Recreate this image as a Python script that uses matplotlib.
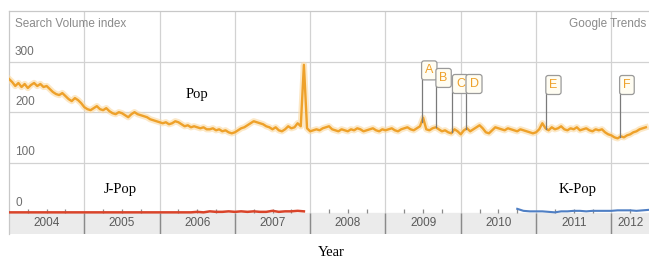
import numpy as np
import matplotlib
matplotlib.use('Agg')
import matplotlib.pyplot as plt

# ============================== DATA ==============================
# Pop: semi-monthly search index, 2004.0 .. 2012.46
pop_vals = [
    266, 260, 252, 258, 250, 256, 248, 254, 258, 252, 256, 250, 252, 246, 240, 236, 234, 238, 232, 226, 222, 228, 224, 218,  # 2004
    210, 206, 204, 208, 212, 206, 204, 208, 202, 198, 196, 200, 198, 194, 190, 196, 200, 196, 194, 192, 190, 186, 184, 182,  # 2005
    180, 178, 180, 176, 178, 182, 180, 176, 172, 174, 170, 172, 170, 168, 170, 166, 166, 168, 164, 166, 162, 164, 160, 158,  # 2006
    160, 164, 168, 170, 174, 178, 182, 180, 178, 176, 172, 170, 166, 170, 164, 162, 166, 172, 168, 170, 178, 172, 294, 168,  # 2007
    162, 164, 166, 164, 168, 170, 172, 166, 164, 162, 166, 164, 162, 166, 164, 168, 166, 162, 164, 166, 168, 164, 162, 166,  # 2008
    164, 166, 168, 164, 162, 166, 168, 170, 166, 164, 168, 172, 189, 166, 164, 168, 170, 166, 162, 164, 160, 158, 166, 162,  # 2009
    156, 164, 168, 162, 166, 170, 174, 168, 160, 158, 164, 170, 168, 166, 164, 168, 166, 164, 162, 166, 164, 162, 160, 158,  # 2010
    160, 166, 178, 168, 164, 170, 166, 168, 172, 166, 164, 168, 166, 170, 164, 166, 168, 164, 162, 166, 164, 166, 160, 156,  # 2011
    154, 150, 148, 152, 150, 154, 156, 160, 162, 166, 168, 170,                                                              # 2012
]
pop_t = 2004 + np.arange(len(pop_vals)) / 24.0

# J-Pop: monthly, 2004.0 .. 2007.92
jpop_vals = [1]*12 + [1]*12 + [1, 1, 1, 1, 1, 1, 2, 1, 3, 2, 2, 3] + [2, 3, 2, 3, 2, 2, 4, 2, 3, 3, 4, 3]
jpop_t = 2004 + np.arange(len(jpop_vals)) / 12.0

# K-Pop: monthly, 2010.75 .. 2012.5
kpop_vals = [8, 4, 3, 3, 3, 2, 1, 3, 3, 4, 4, 3, 4, 4, 4, 4, 5, 5, 5, 4, 5, 6]
kpop_t = 2010.75 + np.arange(len(kpop_vals)) / 12.0

years = [2004, 2005, 2006, 2007, 2008, 2009, 2010, 2011, 2012]
yticks = [0, 100, 200, 300]

# news flags
flag_lbl = ['A', 'B', 'C', 'D', 'E', 'F']
flag_x = [2009.48, 2009.67, 2009.89, 2010.07, 2011.13, 2012.11]
flag_y = [283, 268, 256, 256, 254, 254]

# ============================== PLOT ==============================
orange = '#eea12a'
grey_txt = '#6e6e6e'
sans = 'Liberation Sans'
serif = 'Liberation Serif'

fig = plt.figure(figsize=(6.49, 2.57), dpi=100)
ax = fig.add_axes([9/649, 23/257, 640/649, 223/257])
ax.set_xlim(2004.0, 2012.5)
ax.set_ylim(-42, 401)

# year band + grid
ax.axhspan(-42, 0, color='#ebebeb', zorder=0)
for y in yticks[1:]:
    ax.axhline(y, color='#d2d2d2', lw=0.9, zorder=1)
for yr in years[1:]:
    ax.axvline(yr, color='#d2d2d2', lw=0.9, zorder=1)
ax.vlines(years[1:], -42, 0, color='#8a8a8a', lw=1.0, zorder=2)
quarters = [yr + q/4 for yr in years for q in (1, 2, 3) if yr + q/4 < 2012.5]
ax.vlines(quarters, 0, 7, color='#8a8a8a', lw=0.9, zorder=2)
for yr in years:
    mid = min(yr + 0.5, (yr + 2012.5) / 2)
    ax.text(mid, -21, str(yr), ha='center', va='center', fontsize=8.5,
            color='#5a5a5a', family=sans)

for y in yticks:
    ax.text(2004.08, y + 8, str(y), ha='left', va='bottom', fontsize=8.5,
            color=grey_txt, family=sans)
ax.text(2004.08, 375, 'Search Volume index', ha='left', va='center',
        fontsize=8.5, color='#8a8a8a', family=sans)
ax.text(2012.47, 375, 'Google Trends', ha='right', va='center',
        fontsize=8.5, color='#8a8a8a', family=sans)

# series
ax.plot(pop_t, pop_vals, color='#fbd9a0', lw=4.5, alpha=0.6, zorder=3)
ax.plot(pop_t, pop_vals, color=orange, lw=1.7, zorder=4)
ax.plot(jpop_t, jpop_vals, color='#d9442a', lw=1.8, zorder=4)
ax.plot(kpop_t, kpop_vals, color='#4f7fc4', lw=1.5, zorder=4)

# flags
for lbl, fx, fy in zip(flag_lbl, flag_x, flag_y):
    base = np.interp(fx, pop_t, pop_vals)
    ax.plot([fx, fx], [base, fy - 15], color='#7a7a7a', lw=0.9, zorder=5)
    ax.annotate(lbl, xy=(fx, fy), xytext=(2.5, 0), textcoords='offset points',
                ha='left', va='center', fontsize=9, color=orange, family=sans,
                zorder=6,
                bbox=dict(boxstyle='round,pad=0.28,rounding_size=0.2',
                          fc='#fffdf2', ec='#9a9a9a', lw=0.9))

# series labels
ax.text(2006.5, 236, 'Pop', ha='center', va='center', fontsize=10.5, family=serif)
ax.text(2005.48, 47, 'J-Pop', ha='center', va='center', fontsize=10.5, family=serif)
ax.text(2011.55, 47, 'K-Pop', ha='center', va='center', fontsize=10.5, family=serif)
fig.text(331/649, 1 - 252/257, 'Year', ha='center', va='center', fontsize=10.5,
         family=serif)

for s in ['right', 'bottom']:
    ax.spines[s].set_visible(False)
for s in ['top', 'left']:
    ax.spines[s].set_color('#c8c8c8')
    ax.spines[s].set_linewidth(0.9)
ax.set_xticks([])
ax.set_yticks([])

fig.savefig('out.png', dpi=100)
